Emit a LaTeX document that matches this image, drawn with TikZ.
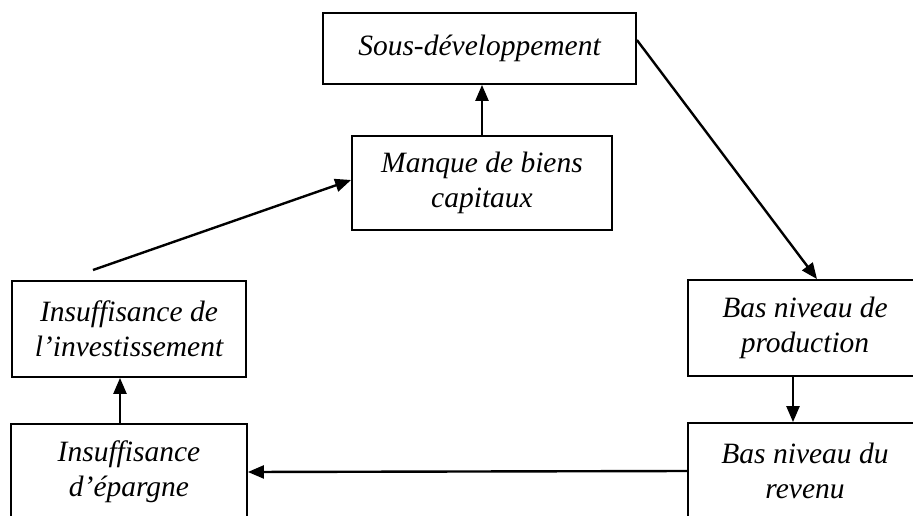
\documentclass[tikz,border=0pt]{standalone}
\usepackage{fontspec}
\setmainfont{Liberation Serif}
\usetikzlibrary{positioning,arrows.meta}

\begin{document}
\begin{tikzpicture}[x=1pt,y=-1pt,
  box/.style={draw,line width=1.8pt,align=center,inner sep=0pt,
    minimum width=234pt,minimum height=96pt,
    font=\itshape\fontsize{29.5}{35}\selectfont},
  link/.style={line width=2.4pt,-{Triangle[length=16pt,width=13pt]}}]
  % frame
  \useasboundingbox (0,0) rectangle (913,516);
  \clip (0,0) rectangle (913,516);
  % top boxes
  \node[box,minimum width=313pt,minimum height=71pt] at(479.5,48.5)(sous){Sous-développement};
  \node[box,minimum width=260pt,minimum height=94pt] at(482,183)(manque){Manque de biens\\capitaux};
  % left boxes
  \node[box] at(129,329)(invest){Insuffisance de\\l’investissement};
  \node[box,minimum width=236pt] at(129,472)(epargne){Insuffisance\\d’épargne};
  % right boxes
  \node[box] at(805,328)(prod){Bas niveau de\\production};
  \node[box] at(805,471)(revenu){Bas niveau du\\revenu};
  % free end above investment box
  \coordinate (invtop) at(93,270);
  % arrows
  \draw[link] (manque.north) -- (manque.north |- sous.south);
  \draw[link] ([yshift=8.5pt]sous.east) -- ([xshift=12pt]prod.north);
  \draw[link] ([xshift=-12pt]prod.south) -- ([xshift=-12pt]revenu.north);
  \draw[link] (revenu.west) -- (epargne.east);
  \draw[link] ([xshift=-9pt]epargne.north) -- ([xshift=-9pt]invest.south);
  \draw[link] (invtop) -- ([yshift=3pt]manque.west);
\end{tikzpicture}
\end{document}
